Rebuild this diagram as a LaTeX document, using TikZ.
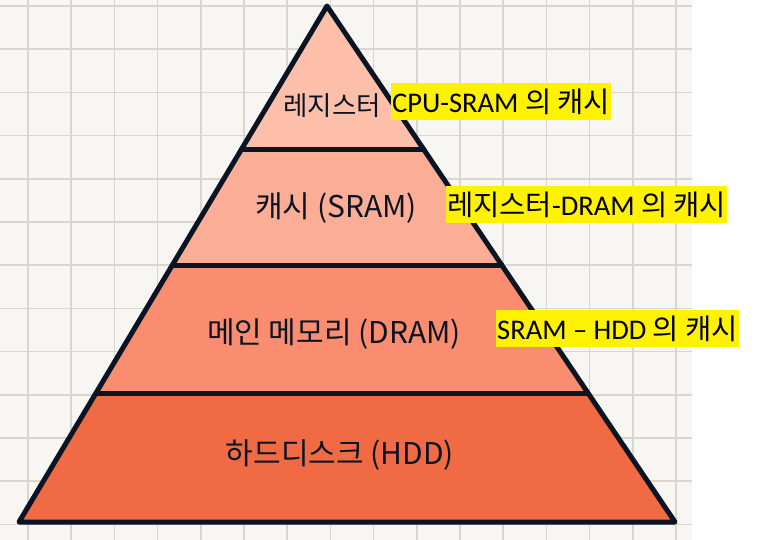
\documentclass[tikz,border=0pt]{standalone}
\usepackage{fontspec}
\setmainfont{Carlito}
\newfontfamily\kr{Noto Sans CJK KR}
\usetikzlibrary{calc}

\definecolor{paper}{HTML}{F8F6F2}
\definecolor{gridgray}{HTML}{D9D5CF}
\definecolor{ink}{HTML}{0B1423}
\definecolor{regcol}{HTML}{FDBEAA}
\definecolor{cachecol}{HTML}{FCAD96}
\definecolor{dramcol}{HTML}{FA8D6F}
\definecolor{hddcol}{HTML}{F06A44}

\begin{document}
\begin{tikzpicture}[
    x=1pt, y=-1pt,
    gridline/.style={gridgray, line width=1.6pt},
    outline/.style={ink, line width=5pt, line join=round, line cap=round},
    band/.style={rounded corners=9pt},
    hand/.style={font=\kr\fontsize{30}{32}\selectfont, text=ink},
    cachelabel/.style={fill=yellow, anchor=north west, inner xsep=1pt, inner ysep=1.5pt,
        text height=28pt, text depth=6pt, font=\fontsize{28.5}{32}\selectfont}
]

% Canvas
\useasboundingbox (0,0) rectangle (757,540);
\fill[white] (0,0) rectangle (757,540);
\fill[paper] (0,0) rectangle (692,540);

% Squared paper
\foreach \i in {0,...,15}
    \draw[gridline] ({28+43.2*\i},0) -- ({28+43.2*\i},540);
\foreach \j in {0,...,12}
    \draw[gridline] (0,{6+43.2*\j}) -- (692,{6+43.2*\j});

% Pyramid corners
\coordinate (top) at (327,6);
\coordinate (bl) at (19,522);
\coordinate (br) at (675,522);

% Layer borders (fraction of the height)
\coordinate (l1) at ($(top)!0.279!(bl)$);
\coordinate (r1) at ($(top)!0.279!(br)$);
\coordinate (l2) at ($(top)!0.502!(bl)$);
\coordinate (r2) at ($(top)!0.502!(br)$);
\coordinate (l3) at ($(top)!0.750!(bl)$);
\coordinate (r3) at ($(top)!0.750!(br)$);

% Layer fills
\fill[white] (top) -- (bl) -- (br) -- cycle;
\fill[regcol, band] (top) -- (r1) -- (l1) -- cycle;
\fill[cachecol, band] (l1) -- (r1) -- (r2) -- (l2) -- cycle;
\fill[dramcol, band] (l2) -- (r2) -- (r3) -- (l3) -- cycle;
\fill[hddcol, band] (l3) -- (r3) -- (br) -- (bl) -- cycle;

% Outline and dividers
\draw[outline] (top) -- (bl) -- (br) -- cycle;
\draw[outline] (l1) -- (r1);
\draw[outline] (l2) -- (r2);
\draw[outline] (l3) -- (r3);

% Layer names
\node[hand, font=\kr\fontsize{26.5}{28}\selectfont] (register) at (332,106) {레지스터};
\node[hand] (cache) at (336,208) {캐시 (SRAM)};
\node[hand] (dram) at (334,334) {메인 메모리 (DRAM)};
\node[hand] (hdd) at (340,455) {하드디스크 (HDD)};

% Cache notes
\node[cachelabel] (regnote) at (391,83) {CPU-SRAM {\kr 의 캐시}};
\node[cachelabel] (cachenote) at (446,186) {{\kr 레지스터}-DRAM {\kr 의 캐시}};
\node[cachelabel] (dramnote) at (496,310) {SRAM -- HDD {\kr 의 캐시}};

\end{tikzpicture}
\end{document}
